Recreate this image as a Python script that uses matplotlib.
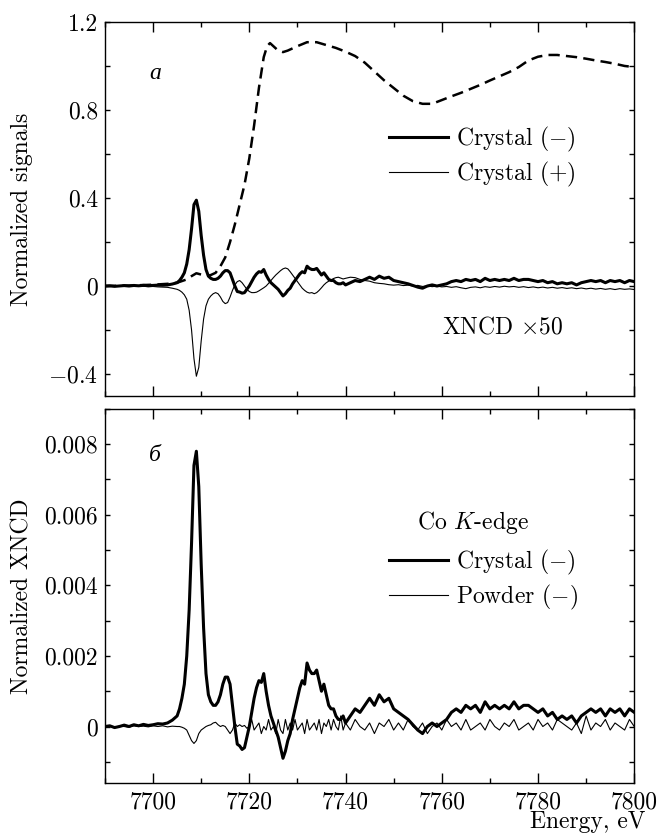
import numpy as np
import matplotlib
matplotlib.use("Agg")
import matplotlib.pyplot as plt
from matplotlib.ticker import MultipleLocator

plt.rcParams['font.family'] = 'serif'
plt.rcParams['font.serif'] = ['cmr10', 'DejaVu Serif']
plt.rcParams['mathtext.fontset'] = 'cm'
plt.rcParams['axes.unicode_minus'] = False

# absorption (dashed) curve, top panel
E_abs = [7690, 7695, 7700, 7703, 7705, 7707, 7708, 7709, 7710, 7711,
         7712, 7713, 7714, 7715, 7716, 7717, 7718, 7719, 7720, 7721,
         7722, 7723, 7723.7, 7724.3, 7725, 7726, 7727, 7728, 7730, 7732,
         7734, 7736, 7738, 7740, 7742, 7744, 7746, 7748, 7750, 7752,
         7754, 7756, 7758, 7760, 7762, 7764, 7766, 7768, 7770, 7772,
         7774, 7776, 7778, 7780, 7782, 7784, 7786, 7788, 7790, 7792,
         7794, 7796, 7798, 7800]
mu_abs = [0.0, 0.002, 0.006, 0.01, 0.015, 0.03, 0.045, 0.058, 0.052, 0.045,
          0.05, 0.06, 0.09, 0.13, 0.2, 0.28, 0.37, 0.46, 0.58, 0.73,
          0.9, 1.04, 1.09, 1.104, 1.09, 1.07, 1.063, 1.07, 1.09, 1.108,
          1.108, 1.095, 1.082, 1.065, 1.045, 1.015, 0.975, 0.935, 0.9, 0.865,
          0.84, 0.828, 0.828, 0.845, 0.862, 0.878, 0.896, 0.914, 0.934, 0.953,
          0.972, 0.995, 1.025, 1.042, 1.05, 1.05, 1.045, 1.04, 1.033, 1.025,
          1.018, 1.01, 1.0, 0.995]

# energy grid of the XNCD spectra
E = [7690, 7691, 7692, 7693, 7694, 7695, 7696, 7697, 7698, 7699,
     7700, 7701, 7702, 7703, 7704, 7705,
     7705.5, 7706, 7706.5, 7707, 7707.5, 7708, 7708.5, 7709, 7709.5, 7710,
     7710.5, 7711, 7711.5, 7712, 7712.5, 7713, 7713.5, 7714, 7714.5, 7715,
     7715.5, 7716, 7716.5, 7717, 7717.5, 7718, 7718.5, 7719, 7719.5, 7720,
     7720.5, 7721, 7721.5, 7722, 7722.5, 7723, 7723.5, 7724, 7724.5, 7725,
     7725.5, 7726, 7726.5, 7727, 7727.5, 7728, 7728.5, 7729, 7729.5, 7730,
     7730.5, 7731, 7731.5, 7732, 7732.5, 7733, 7733.5, 7734, 7734.5, 7735,
     7735.5, 7736, 7736.5, 7737, 7737.5, 7738, 7738.5, 7739, 7739.5, 7740,
     7741, 7742, 7743, 7744, 7745, 7746, 7747, 7748, 7749, 7750,
     7751, 7752, 7753, 7754, 7755, 7756, 7757, 7758, 7759, 7760,
     7761, 7762, 7763, 7764, 7765, 7766, 7767, 7768, 7769, 7770,
     7771, 7772, 7773, 7774, 7775, 7776, 7777, 7778, 7779, 7780,
     7781, 7782, 7783, 7784, 7785, 7786, 7787, 7788, 7789, 7790,
     7791, 7792, 7793, 7794, 7795, 7796, 7797, 7798, 7799, 7800]

# crystal (-) XNCD, units of 1e-4
xncd_crystal_minus = [0.0, 0.2, -0.3, 0.0, 0.4, 0.0, 0.5, 0.2, 0.6, 0.3,
                      0.5, 0.8, 0.7, 1.0, 1.8, 3.0,
                      5, 8, 12, 20, 33, 52, 74, 78, 68, 46,
                      28, 15, 9, 7, 6, 6, 7, 9, 12, 14,
                      14, 12, 6, 0, -5, -5.5, -6.5, -6, -3, 0,
                      4, 8, 11, 13, 12.5, 15, 10, 6, 3, 1,
                      -1, -3, -6, -9, -7, -4, -2, 2, 5, 8,
                      11, 13, 12, 18, 16, 15, 15, 16, 13, 10,
                      12, 9, 6, 5, 5, 3, 2, 2, 3, 1,
                      3, 5, 4, 6, 8, 6, 9, 7, 8, 5,
                      4, 3, 2, 0.5, -1, -2, 0, 1, 0, 1,
                      2, 4, 5, 4, 6, 5, 6, 4, 7, 5,
                      6, 5, 6, 5, 7, 5, 6, 6, 5, 4,
                      5, 3, 4, 2, 3, 2, 3, 1, 3, 4,
                      5, 4, 5, 3, 5, 4, 5, 3, 5, 4]

# crystal (+) XNCD x50, top panel
xncd_crystal_plus_x50 = [0, 0, 0.001, -0.001, 0, -0.001, 0, -0.002, -0.001, -0.003,
                         -0.002, -0.004, -0.005, -0.006, -0.01, -0.015,
                         -0.02, -0.028, -0.04, -0.06, -0.11, -0.2, -0.33, -0.41, -0.37, -0.25,
                         -0.15, -0.09, -0.06, -0.045, -0.035, -0.03, -0.035, -0.05, -0.07, -0.08,
                         -0.075, -0.05, -0.02, 0.005, 0.02, 0.025, 0.015, 0.0, -0.015, -0.025,
                         -0.03, -0.03, -0.028, -0.022, -0.015, -0.008, 0.0, 0.012, 0.025, 0.038,
                         0.05, 0.06, 0.07, 0.078, 0.082, 0.078, 0.065, 0.05, 0.035, 0.02,
                         0.005, -0.01, -0.02, -0.028, -0.032, -0.03, -0.035, -0.03, -0.02, -0.008,
                         0.005, 0.015, 0.022, 0.028, 0.034, 0.038, 0.04, 0.036, 0.032, 0.035,
                         0.04, 0.038, 0.03, 0.025, 0.022, 0.015, 0.012, 0.01, 0.006, 0.004,
                         0.006, 0.002, 0.004, 0.0, 0.003, -0.002, 0.001, -0.003, 0.0, -0.004,
                         -0.002, -0.006, -0.003, -0.008, -0.012, -0.006, -0.004, -0.008, -0.003, -0.006,
                         -0.002, -0.005, -0.001, -0.004, -0.002, -0.006, -0.003, -0.007, -0.004, -0.008,
                         -0.005, -0.009, -0.006, -0.01, -0.007, -0.011, -0.008, -0.012, -0.009, -0.013,
                         -0.01, -0.014, -0.011, -0.015, -0.012, -0.016, -0.012, -0.015, -0.013, -0.016]

# powder (-) XNCD, units of 1e-4
xncd_powder_minus = [0, 0.2, -0.2, 0.1, 0, -0.2, 0.2, 0, 0.1, -0.1,
                     0.2, 0, 0.2, -0.1, 0.1, 0,
                     0, -0.2, -0.5, -1, -2.5, -4, -4.8, -4, -2, -1,
                     -0.5, 0, 0.3, 0.5, 1, 1.2, 0.5, 0, 0.3, 0,
                     -1, -2, -1, 1, 0, 0.5, 0, 0.3, -0.5, 0,
                     2, -1, 0, 1, -2, 0, -1, 2, -1, 0,
                     -2, 2, -1, -2, 2, -1, 1, -1, 2, -1,
                     0, 1, -2, 2, -1, 0, 1, -1, 2, -2,
                     1, 0, 2, -1, 2, 0, -1, 3, -1, 1,
                     -1, 2, 0, -1, 1, -2, 1, 0, 2, -1,
                     1, -1, 2, 0, -1, 1, -2, 0, 1, -1,
                     2, 0, 1, -1, 2, -1, 0, 1, -1, 2,
                     0, -1, 1, 0, 2, -1, 0, 1, -1, 2,
                     0, 1, -1, 2, 1, 0, -1, 1, -2, 3,
                     -1, 1, 0, 2, -1, 1, 0, -1, 2, 0]

E = np.array(E)
crystal_minus = np.array(xncd_crystal_minus) * 1e-4
powder_minus = np.array(xncd_powder_minus) * 1e-4

fs = 17

fig = plt.figure(figsize=(6.6, 8.35), dpi=100)
ax1 = fig.add_axes([0.159, 0.5257, 0.802, 0.448])
ax2 = fig.add_axes([0.159, 0.0623, 0.802, 0.448])

# top panel
ax1.plot(E_abs, mu_abs, color='black', lw=1.8, dashes=(4.5, 2.5))
ax1.plot(E, crystal_minus * 50, color='black', lw=2.2, label='Crystal ($-$)')
ax1.plot(E, xncd_crystal_plus_x50, color='black', lw=0.8, label='Crystal ($+$)')
ax1.set_ylim(-0.5, 1.2)
ax1.set_yticks([-0.4, 0, 0.4, 0.8, 1.2])
ax1.set_yticklabels(['$-$0.4', '0', '0.4', '0.8', '1.2'])
ax1.yaxis.set_minor_locator(MultipleLocator(0.2))
ax1.set_ylabel('Normalized signals', fontsize=17)
ax1.text(7700.4, 0.964, 'а', fontsize=fs, style='italic', family='Liberation Serif',
         ha='center', va='center')
ax1.text(7772.7, -0.19, r'XNCD $\times$50', fontsize=fs, ha='center', va='center')
ax1.legend(loc='center left', bbox_to_anchor=(0.537, 0.64), frameon=False,
           fontsize=fs, handlelength=2.5, handletextpad=0.35, labelspacing=0.25,
           borderpad=0, borderaxespad=0)

# bottom panel
ax2.plot(E, crystal_minus, color='black', lw=2.2, label='Crystal ($-$)')
ax2.plot(E, powder_minus, color='black', lw=0.8, label='Powder ($-$)')
ax2.set_ylim(-0.0016, 0.009)
ax2.set_yticks([0, 0.002, 0.004, 0.006, 0.008])
ax2.set_yticklabels(['0', '0.002', '0.004', '0.006', '0.008'])
ax2.yaxis.set_minor_locator(MultipleLocator(0.001))
ax2.set_ylabel('Normalized XNCD', fontsize=17)
ax2.text(7700.4, 0.00767, 'б', fontsize=fs, style='italic', family='Liberation Serif',
         ha='center', va='center')
ax2.text(7754.9, 0.00577, r'Co $K$-edge', fontsize=fs, ha='left', va='center')
ax2.legend(loc='center left', bbox_to_anchor=(0.537, 0.544), frameon=False,
           fontsize=fs, handlelength=2.5, handletextpad=0.35, labelspacing=0.25,
           borderpad=0, borderaxespad=0)

for ax in (ax1, ax2):
    ax.set_xlim(7690, 7800)
    ax.xaxis.set_major_locator(MultipleLocator(20))
    ax.xaxis.set_minor_locator(MultipleLocator(10))
    ax.tick_params(which='both', direction='in', top=True, right=True,
                   labelsize=fs, width=1)
    ax.tick_params(axis='x', which='major', length=7, pad=6)
    ax.tick_params(axis='x', which='minor', length=3.5)
    ax.tick_params(axis='y', which='both', length=3.5, pad=5)
    ax.yaxis.set_label_coords(-0.135, 0.5)
    for s in ax.spines.values():
        s.set_linewidth(1.0)

ax1.tick_params(axis='x', labelbottom=False)
fig.text(645 / 660, 1 - 822 / 835, 'Energy, eV', fontsize=fs, ha='right', va='center')

fig.savefig('out.png', dpi=100)
